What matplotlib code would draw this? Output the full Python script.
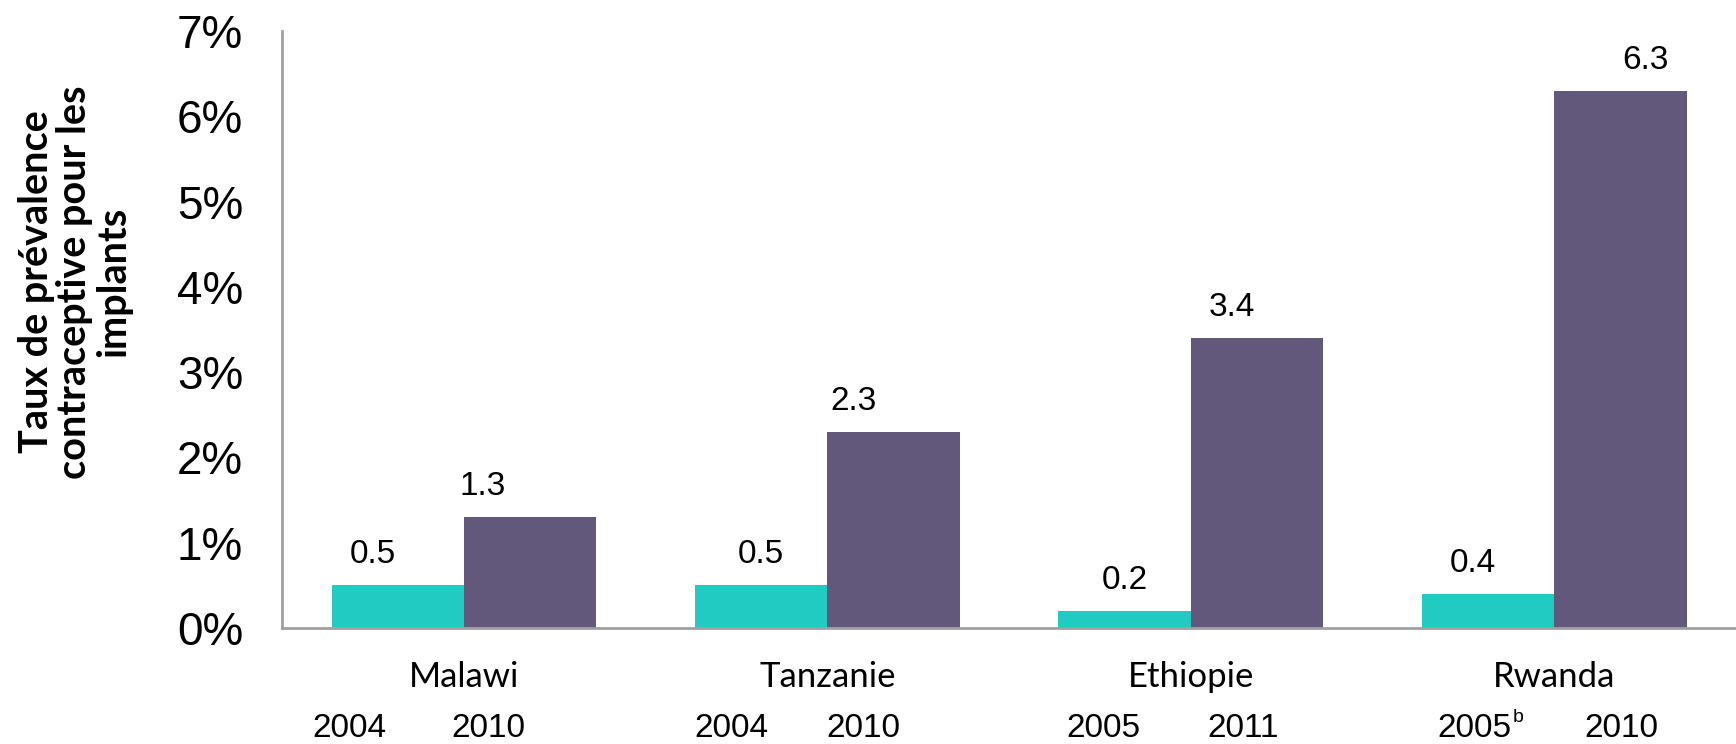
import numpy as np
import matplotlib.pyplot as plt
from matplotlib.ticker import FuncFormatter

# Data
countries = ['Malawi', 'Tanzanie', 'Ethiopie', 'Rwanda']
first_years = ['2004', '2004', '2005', '2005']
first_year_notes = ['', '', '', 'b']
second_years = ['2010', '2010', '2011', '2010']
first_values = [0.5, 0.5, 0.2, 0.4]
second_values = [1.3, 2.3, 3.4, 6.3]
labels_first = ['0.5', '0.5', '0.2', '0.4']
labels_second = ['1.3', '2.3', '3.4', '6.3']

teal = '#21CBC2'
purple = '#62587C'
axis_grey = '#A0A0A0'

# label placement tweaks (layout only)
year1_shift = [-0.314, -0.263, -0.239, -0.219]
year2_shift = [0.067, 0.098, 0.145, 0.184]
val1_dx = [-18, 0, 0, -11]
val2_dx = [-34, -29, -18, 18]

fig = plt.figure(figsize=(17.36, 7.44), dpi=100)
ax = fig.add_axes([0.1625, 0.156, 0.8375, 0.802])

x = np.arange(len(countries))
w = 0.364
ax.bar(x - w / 2, first_values, width=w, color=teal)
ax.bar(x + w / 2, second_values, width=w, color=purple)

# value labels above bars
for xi, v, lab, dx in zip(x - w / 2, first_values, labels_first, val1_dx):
    ax.annotate(lab, (xi, v), xytext=(dx, 11), textcoords='offset points',
                ha='center', va='bottom', fontsize=24, family='Liberation Sans')
for xi, v, lab, dx in zip(x + w / 2, second_values, labels_second, val2_dx):
    ax.annotate(lab, (xi, v), xytext=(dx, 11), textcoords='offset points',
                ha='center', va='bottom', fontsize=24, family='Liberation Sans')

ax.set_xlim(-0.5, len(countries) - 0.5)
ax.set_ylim(0, 7)
ax.set_yticks(range(0, 8))
ax.yaxis.set_major_formatter(FuncFormatter(lambda v, p: f'{int(v)}%'))
ax.tick_params(axis='y', length=0, pad=28, labelsize=33)
for t in ax.get_yticklabels():
    t.set_family('Liberation Sans')

ax.set_xticks(x)
ax.set_xticklabels(countries, fontsize=25, family='Lato')
ax.tick_params(axis='x', length=0, pad=24)

# years under each bar
trans = ax.get_xaxis_transform()
for xi, y1, note, y2, s1, s2 in zip(x, first_years, first_year_notes, second_years,
                                    year1_shift, year2_shift):
    t = ax.text(xi + s1, -0.168, y1, transform=trans, ha='center', va='center',
                fontsize=24, family='Liberation Sans')
    if note:
        ax.annotate(note, (1, 0.85), xycoords=t, xytext=(1, 0), textcoords='offset points',
                    ha='left', va='center', fontsize=14, family='Liberation Sans')
    ax.text(xi + s2, -0.168, y2, transform=trans, ha='center', va='center',
            fontsize=24, family='Liberation Sans')

for s in ['top', 'right']:
    ax.spines[s].set_visible(False)
for s in ['left', 'bottom']:
    ax.spines[s].set_color(axis_grey)
    ax.spines[s].set_linewidth(2)

fig.text(0.043, 0.621, 'Taux de prévalence\ncontraceptive pour les\nimplants',
         rotation=90, ha='center', va='center', fontsize=28.5, fontweight='bold',
         family='Lato', linespacing=1.05)

fig.savefig('out.png', dpi=100)
